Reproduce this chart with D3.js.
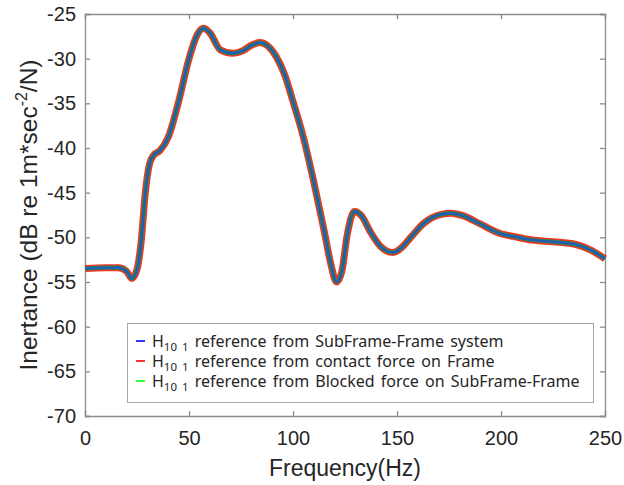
<!DOCTYPE html>
<html>
<head>
<meta charset="utf-8">
<script src="https://cdn.jsdelivr.net/npm/d3@7"></script>
<style>
  body { margin: 0; background: #fff; }
  text { fill: #262626; }
</style>
</head>
<body>
<div id="plot"></div>
<script>
// data
const freq = [0, 10, 16, 20, 22.5, 25, 27, 29, 31, 33, 36, 40, 45, 50, 54, 57, 60, 65, 71, 76, 80, 84, 88, 92, 96, 100, 105, 110, 115, 118, 121, 123.5, 126, 129.5, 133, 137, 142, 148, 152, 157, 163, 170, 176, 182, 190, 200, 206, 215, 225, 236, 243, 250];
const subframeFrame = [-53.5, -53.4, -53.4, -53.8, -54.6, -53.6, -50.5, -45, -41.8, -40.8, -40.3, -38.8, -34.8, -30, -27.3, -26.6, -27.1, -29, -29.4, -29.1, -28.5, -28.2, -28.6, -29.8, -31.8, -34.8, -38.8, -43.8, -49.3, -52.8, -55, -53.8, -49.8, -47.1, -47.6, -49.3, -51, -51.7, -51.2, -49.9, -48.4, -47.5, -47.3, -47.6, -48.5, -49.6, -49.9, -50.3, -50.5, -50.8, -51.4, -52.4];
const contactForce = subframeFrame;
const blockedForce = subframeFrame;

const seriesNames = [
  "reference from SubFrame-Frame system",
  "reference from contact force on Frame",
  "reference from Blocked force on SubFrame-Frame"
];
const legendColors = ["#0000ff", "#ff0000", "#00ff00"];
const xTicks = [0, 50, 100, 150, 200, 250];
const yTicks = [-25, -30, -35, -40, -45, -50, -55, -60, -65, -70];

const width = 624, height = 485;
const margin = { top: 14, right: 19, bottom: 69, left: 85 };

const svg = d3.select("#plot").append("svg")
  .attr("width", width).attr("height", height);

const x = d3.scaleLinear().domain([0, 250]).range([margin.left, width - margin.right]);
const y = d3.scaleLinear().domain([-70, -25]).range([height - margin.bottom, margin.top]);

const axisColor = "#8c8c8c";
const plain = d => String(d);

// axes, MATLAB-like box with inward ticks
const gx = svg.append("g").attr("transform", `translate(0,${y(-70)})`)
  .call(d3.axisBottom(x).tickValues(xTicks).tickFormat(plain).tickSize(-5).tickPadding(15));
const gy = svg.append("g").attr("transform", `translate(${x(0)},0)`)
  .call(d3.axisLeft(y).tickValues(yTicks).tickFormat(plain).tickSize(-5).tickPadding(9));
const gt = svg.append("g").attr("transform", `translate(0,${y(-25)})`)
  .call(d3.axisTop(x).tickValues(xTicks).tickSize(-5).tickFormat(""));
const gr = svg.append("g").attr("transform", `translate(${x(250)},0)`)
  .call(d3.axisRight(y).tickValues(yTicks).tickSize(-5).tickFormat(""));

[gx, gy, gt, gr].forEach(g => {
  g.selectAll("path, line").attr("stroke", axisColor).attr("stroke-width", 1.3);
  g.selectAll("text").style("font-family", "'Liberation Sans', Arial, sans-serif")
    .style("font-size", "20px").attr("fill", "#262626");
});

// lines
const line = d3.line()
  .x((d, i) => x(freq[i]))
  .y(d => y(d))
  .curve(d3.curveMonotoneX);

svg.append("path").datum(contactForce).attr("d", line)
  .attr("fill", "none").attr("stroke", "#f2361f").attr("stroke-width", 7);
svg.append("path").datum(blockedForce).attr("d", line)
  .attr("fill", "none").attr("stroke", "#3c7d4a").attr("stroke-width", 4.2);
svg.append("path").datum(subframeFrame).attr("d", line)
  .attr("fill", "none").attr("stroke", "#1c5fb8").attr("stroke-width", 2.4);

// axis labels
svg.append("text")
  .attr("x", (x(0) + x(250)) / 2).attr("y", 476)
  .attr("text-anchor", "middle")
  .style("font-family", "'Liberation Sans', Arial, sans-serif")
  .style("font-size", "23px")
  .text("Frequency(Hz)");

const yl = svg.append("text")
  .attr("transform", `translate(37,${(y(-25) + y(-70)) / 2}) rotate(-90)`)
  .attr("text-anchor", "middle")
  .style("font-family", "'Liberation Sans', Arial, sans-serif")
  .style("font-size", "24.5px");
yl.append("tspan").text("Inertance (dB re 1m*sec");
yl.append("tspan").attr("dy", -10).style("font-size", "16px").text("-2");
yl.append("tspan").attr("dy", 10).text("/N)");

// legend
const lg = svg.append("g");
lg.append("rect")
  .attr("x", 127.5).attr("y", 323.5).attr("width", 466).attr("height", 79)
  .attr("fill", "#fff").attr("stroke", "#a6a6a6").attr("stroke-width", 1);

seriesNames.forEach((name, i) => {
  const cy = 341 + i * 20;
  lg.append("line")
    .attr("x1", 136).attr("x2", 145).attr("y1", cy).attr("y2", cy)
    .attr("stroke", legendColors[i]).attr("stroke-width", 1.6);
  const t = lg.append("text")
    .attr("x", 152).attr("y", cy + 6)
    .style("font-family", "'Noto Sans', sans-serif")
    .style("font-size", "16px")
    .style("word-spacing", "2px");
  t.append("tspan").text("H");
  t.append("tspan").attr("dy", 4).style("font-size", "11.5px").text("10 1");
  t.append("tspan").attr("dy", -4).text(" " + name);
});
</script>
</body>
</html>
